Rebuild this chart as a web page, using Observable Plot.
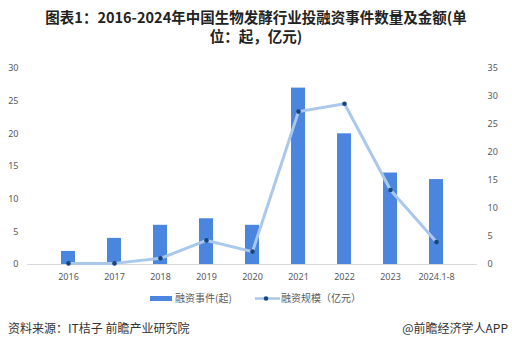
<!DOCTYPE html>
<html><head><meta charset="utf-8">
<script src="https://cdn.jsdelivr.net/npm/d3@7"></script>
<script src="https://cdn.jsdelivr.net/npm/@observablehq/plot@0.6"></script>
<style>
body{margin:0;background:#fff;font-family:"Noto Sans CJK SC","Noto Sans",sans-serif;}
#wrap{position:relative;width:512px;height:351px;overflow:hidden;}
#title{position:absolute;top:7px;left:0;width:512px;text-align:center;font-weight:bold;font-size:14.5px;line-height:19px;color:#222;}
#title div{height:19px;overflow:visible;white-space:nowrap;}
#chart{position:absolute;top:50px;left:0;}
#legend{position:absolute;top:291px;left:0;width:512px;font-size:10px;color:#595959;}
#src{position:absolute;top:319px;left:8px;font-size:12px;color:#333;}
#app{position:absolute;top:319px;right:4px;font-size:12px;color:#333;}
</style></head>
<body><div id="wrap">
<div id="title"><div>图表1：2016-2024年中国生物发酵行业投融资事件数量及金额(单</div><div>位：起，亿元)</div></div>
<div id="chart"></div>
<div id="legend"></div>
<div id="src">资料来源：IT桔子 前瞻产业研究院</div>
<div id="app">@前瞻经济学人APP</div>
</div>
<script>
const years = ["2016","2017","2018","2019","2020","2021","2022","2023","2024.1-8"];
const events = [2,4,6,7,6,27,20,14,13];
const amounts = [0.2,0.2,1.1,4.3,2.3,27.3,28.7,13.3,4.0];
const leftTicks = [0,5,10,15,20,25,30];
const rightTicks = [0,5,10,15,20,25,30,35];
const seriesNames = ["融资事件(起)","融资规模（亿元）"];

const barColor = "#4a86df", lineColor = "#a9c8ec", dotColor = "#17467f";
const k = 30/35;
const rows = years.map((y,i)=>({year:y, events:events[i], amount:amounts[i], amountScaled:amounts[i]*k}));

const chart = Plot.plot({
  width:512, height:240,
  marginTop:18, marginBottom:26, marginLeft:27, marginRight:35,
  style:{fontSize:"9px", color:"#595959", fontFamily:"'Noto Sans','DejaVu Sans',sans-serif"},
  x:{domain:years, padding:0.7, label:null},
  y:{domain:[0,30], label:null},
  marks:[
    Plot.axisX({tickSize:0, tickPadding:9, label:null}),
    Plot.axisY({ticks:leftTicks, anchor:"left", tickSize:0, tickPadding:9, label:null}),
    Plot.axisY(rightTicks.map(v=>v*k), {anchor:"right", tickSize:0, tickPadding:10, label:null, tickFormat:d=>String(Math.round(d/k))}),
    Plot.ruleY([0], {stroke:"#d9d9d9"}),
    Plot.barY(rows, {x:"year", y:"events", fill:barColor}),
    Plot.line(rows, {x:"year", y:"amountScaled", stroke:lineColor, strokeWidth:3}),
    Plot.dot(rows, {x:"year", y:"amountScaled", fill:dotColor, r:2.3})
  ]
});
document.getElementById("chart").appendChild(chart);

const lg = d3.select("#legend").append("svg").attr("width",512).attr("height",18);
lg.append("rect").attr("x",150).attr("y",5).attr("width",22).attr("height",5).attr("fill",barColor);
lg.append("text").attr("x",175).attr("y",11).attr("font-size",10).attr("fill","#595959").text(seriesNames[0]);
lg.append("line").attr("x1",255).attr("x2",280).attr("y1",7.5).attr("y2",7.5).attr("stroke",lineColor).attr("stroke-width",2.5);
lg.append("circle").attr("cx",266).attr("cy",7.5).attr("r",2.3).attr("fill",dotColor);
lg.append("text").attr("x",281).attr("y",11).attr("font-size",10).attr("fill","#595959").text(seriesNames[1]);
</script>
</body></html>
